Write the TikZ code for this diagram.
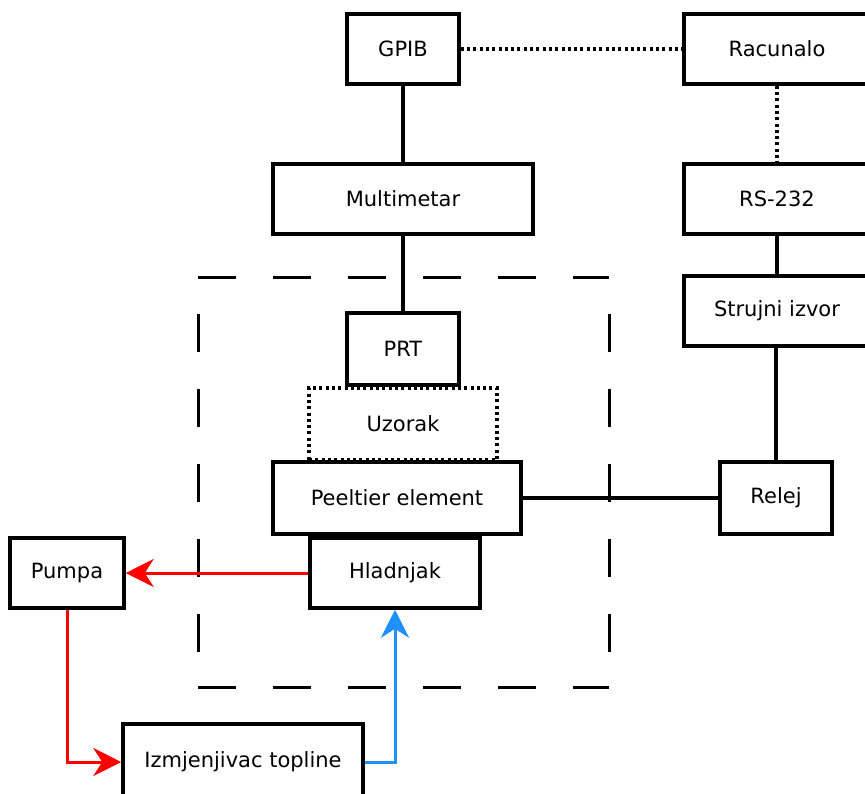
\documentclass[tikz,border=0pt]{standalone}
\usepackage{fontspec}
\setmainfont{DejaVu Sans}
\usetikzlibrary{arrows.meta}
\begin{document}
\begin{tikzpicture}[x=1pt,y=-1pt,
  box/.style={draw=black,line width=3.5pt,rectangle,fill=white,inner sep=0pt,
    font=\fontsize{21}{24}\selectfont},
  dotbox/.style={box,dash pattern=on 3pt off 3.3pt,line width=3.5pt},
  wire/.style={draw=black,line width=3.5pt},
  dotwire/.style={draw=black,line width=3.5pt,dash pattern=on 3pt off 3.3pt},
  dashh/.style={draw=black,line width=3pt,dash pattern=on 38pt off 37pt},
  dashv/.style={draw=black,line width=3pt,dash pattern=on 38pt off 37pt,dash phase=38pt},
  redarrow/.style={draw=red,line width=3pt,-{Stealth[length=28pt,width=28pt,inset=9pt]}},
  bluearrow/.style={draw={rgb,255:red,30;green,144;blue,255},line width=3pt,-{Stealth[length=28pt,width=28pt,inset=9pt]}}]
\useasboundingbox (0,0) rectangle (865,793);
\clip (0,0) rectangle (865,793);
\fill[white] (0,0) rectangle (865,793);
% dashed enclosure
\coordinate (tl) at (198,277);
\coordinate (tr) at (609,277);
\coordinate (bl) at (198,687);
\coordinate (br) at (609,687);
\draw[dashh] (tl) -- (tr);
\draw[dashh] (bl) -- (br);
\draw[dashv] (tl) -- (bl);
\draw[dashv] (tr) -- (br);
% nodes
\node[box,minimum width=112pt,minimum height=70pt] (gpib) at (403,49) {GPIB};
\node[box,minimum width=186pt,minimum height=70pt] (rac) at (777,49) {Racunalo};
\node[box,minimum width=260pt,minimum height=70pt] (mm) at (403,199) {Multimetar};
\node[box,minimum width=186pt,minimum height=70pt] (rs) at (777,199) {RS-232};
\node[box,minimum width=186pt,minimum height=70pt] (si) at (777,311) {Strujni izvor};
\node[box,minimum width=112pt,minimum height=72pt] (prt) at (403,349) {PRT};
\node[dotbox,minimum width=188pt,minimum height=72pt] (uz) at (403,424) {Uzorak};
\node[box,minimum width=112pt,minimum height=72pt] (rel) at (776,498) {Relej};
\node[box,minimum width=248pt,minimum height=72pt] (pe) at (397,498) {Peeltier element};
\node[box,minimum width=170pt,minimum height=70pt] (hl) at (395,573) {Hladnjak};
\node[box,minimum width=114pt,minimum height=70pt] (pu) at (67,573) {Pumpa};
\node[box,minimum width=240pt,minimum height=76pt] (iz) at (243,762) {Izmjenjivac topline};
% connectors
\draw[dotwire] (gpib.east) -- (rac.west);
\draw[dotwire] (rac.south) -- (rs.north);
\draw[wire] (gpib.south) -- (mm.north);
\draw[wire] (mm.south) -- (prt.north);
\draw[wire] (rs.south) -- (si.north);
\draw[wire] (si.south -| rel.north) -- (rel.north);
\draw[wire] (pe.east) -- (rel.west);
\draw[redarrow] (hl.west) -- (pu.east);
\draw[redarrow] (pu.south) |- (iz.west);
\draw[bluearrow] (iz.east) -| (hl.south);
\end{tikzpicture}
\end{document}
